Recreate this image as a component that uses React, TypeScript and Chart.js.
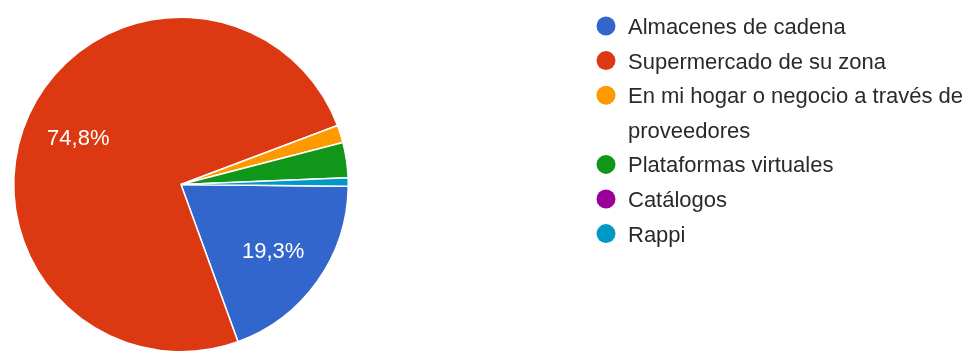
import React, { useEffect, useRef } from "react";
import { Chart, registerables } from "chart.js";

Chart.register(...registerables);

const categories = [
  "Almacenes de cadena",
  "Supermercado de su zona",
  "En mi hogar o negocio a través de proveedores",
  "Plataformas virtuales",
  "Catálogos",
  "Rappi",
];
const percentages = [19.3, 74.8, 1.7, 3.4, 0, 0.8];
const colors = ["#3366cc", "#dc3912", "#ff9900", "#109618", "#990099", "#0099c6"];

const FONT = "'Liberation Sans', Arial, sans-serif";

function wrapText(ctx: CanvasRenderingContext2D, text: string, maxW: number): string[] {
  const words = text.split(" ");
  const lines: string[] = [];
  let cur = "";
  for (const w of words) {
    const test = cur ? cur + " " + w : w;
    if (ctx.measureText(test).width > maxW && cur) {
      lines.push(cur);
      cur = w;
    } else {
      cur = test;
    }
  }
  if (cur) lines.push(cur);
  return lines;
}

const sliceLabels = {
  id: "sliceLabels",
  afterDatasetsDraw(chart: any) {
    const ctx = chart.ctx as CanvasRenderingContext2D;
    const meta = chart.getDatasetMeta(0);
    const data = chart.data.datasets[0].data as number[];
    ctx.save();
    ctx.font = `22px ${FONT}`;
    ctx.fillStyle = "#ffffff";
    ctx.textAlign = "center";
    ctx.textBaseline = "alphabetic";
    meta.data.forEach((arc: any, i: number) => {
      const v = data[i];
      if (v < 5) return;
      const p = arc.getProps(["x", "y", "startAngle", "endAngle", "outerRadius"], true);
      const mid = (p.startAngle + p.endAngle) / 2;
      const r = p.outerRadius * 0.676;
      ctx.fillText(
        v.toFixed(1).replace(".", ",") + "%",
        p.x + Math.cos(mid) * r,
        p.y + Math.sin(mid) * r + 8
      );
    });
    ctx.restore();
  },
};

const sideLegend = {
  id: "sideLegend",
  afterDraw(chart: any) {
    const ctx = chart.ctx as CanvasRenderingContext2D;
    const labels = chart.data.labels as string[];
    const bg = chart.data.datasets[0].backgroundColor as string[];
    ctx.save();
    ctx.font = `22px ${FONT}`;
    ctx.textAlign = "left";
    ctx.textBaseline = "alphabetic";
    const circleX = 606;
    const textX = 628;
    const maxW = 340;
    const pitch = 34.6;
    let y = 26;
    labels.forEach((label, i) => {
      ctx.fillStyle = bg[i];
      ctx.beginPath();
      ctx.arc(circleX, y, 9.5, 0, Math.PI * 2);
      ctx.fill();
      ctx.fillStyle = "#2a2a2a";
      const lines = wrapText(ctx, label, maxW);
      lines.forEach((line) => {
        ctx.fillText(line, textX, y + 8);
        y += pitch;
      });
    });
    ctx.restore();
  },
};

export default function App() {
  const ref = useRef<HTMLCanvasElement | null>(null);
  useEffect(() => {
    if (!ref.current) return;
    const chart = new Chart(ref.current, {
      type: "pie",
      data: {
        labels: categories,
        datasets: [
          {
            data: percentages,
            backgroundColor: colors,
            borderColor: "#ffffff",
            borderWidth: 1.5,
          },
        ],
      },
      options: {
        responsive: false,
        animation: false,
        rotation: 90.6,
        layout: { padding: { left: 13, top: 16, right: 623, bottom: 17 } },
        plugins: {
          legend: { display: false },
          tooltip: { enabled: false },
        },
      },
      plugins: [sliceLabels, sideLegend],
    });
    return () => chart.destroy();
  }, []);
  return (
    <div
      style={{
        position: "absolute",
        left: 0,
        top: 0,
        width: 972,
        height: 351,
        overflow: "hidden",
        background: "#ffffff",
      }}
    >
      <canvas ref={ref} width={972} height={370} style={{ display: "block", width: 972, height: 370 }} />
    </div>
  );
}
